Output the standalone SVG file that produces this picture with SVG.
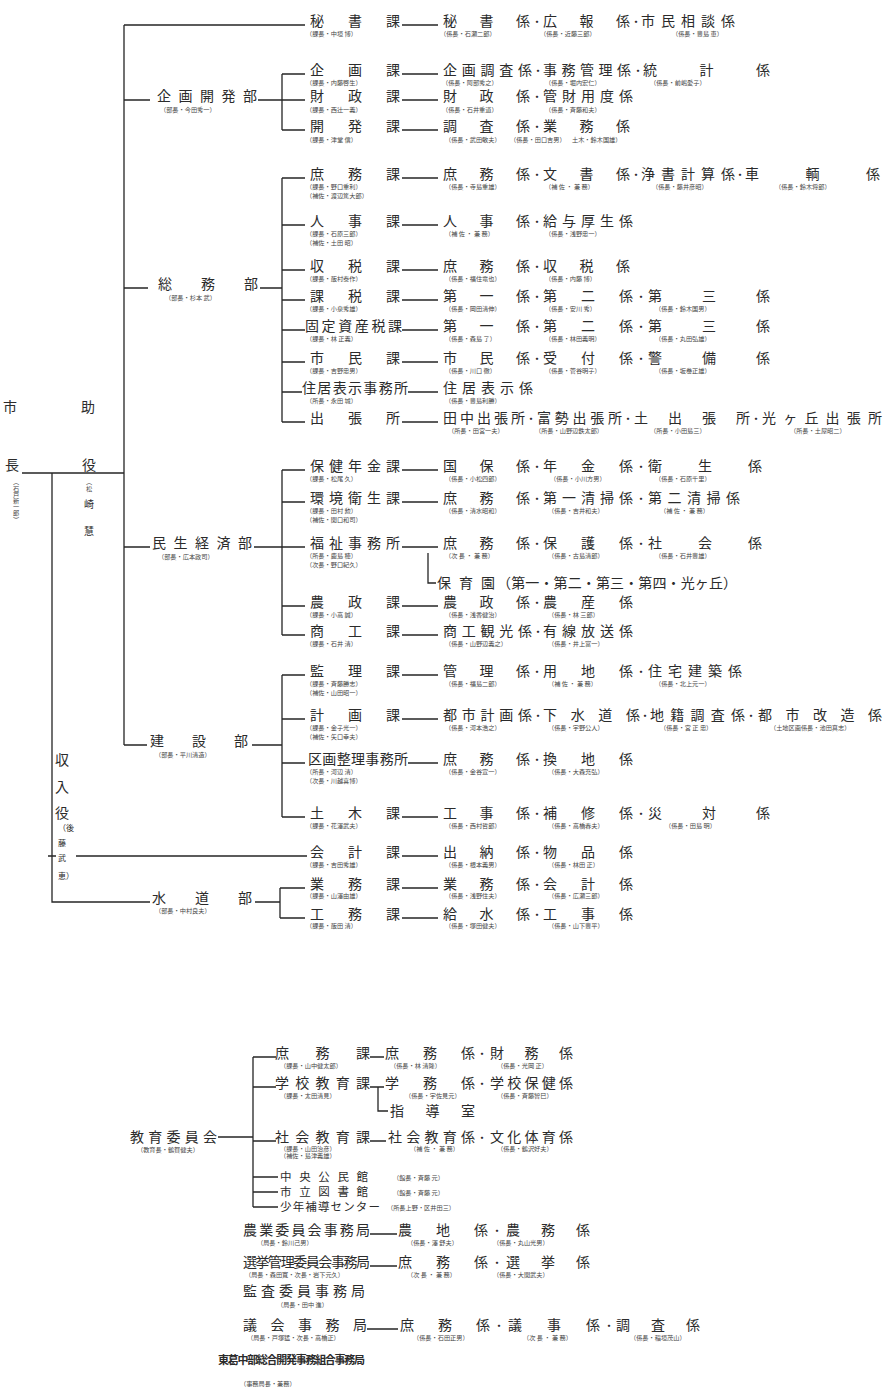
<svg xmlns="http://www.w3.org/2000/svg" width="885" height="1387" viewBox="0 0 885 1387">
<style>
text{font-family:"Noto Sans CJK JP","Noto Sans CJK SC",sans-serif;fill:#2b2b2b}
.t{font-size:14px}
.m{font-size:11.5px}
.s{font-size:6.2px;fill:#444}
.d{font-size:11px;text-anchor:middle}
.v{font-size:8px}
.ln{stroke:#262626;stroke-width:1.3;fill:none}
</style>
<rect width="885" height="1387" fill="#ffffff"/>

<g id="connectors" class="ln">
<path d="M124,25 V745 M124,25 H305 M22,473 H124 M52,473 V902 H150 M48,856 H56 M76,856 H307"/>
<path d="M124,100 H150 M258,100 H282 M282,74 V130 M282,74 H305 M282,100 H305 M282,130 H305"/>
<path d="M124,288 H148 M260,288 H282 M282,178 V422 M282,178 H305 M282,225 H305 M282,270 H305 M282,300 H305 M282,330 H305 M282,362 H305 M282,392 H302 M282,422 H305"/>
<path d="M124,547 H150 M254,547 H282 M282,470 V635 M282,470 H305 M282,502 H305 M282,547 H305 M282,606 H305 M282,635 H305 M428,553 V583 H436"/>
<path d="M124,745 H147 M252,745 H282 M282,675 V817 M282,675 H305 M282,719 H305 M282,763 H305 M282,817 H305"/>
<path d="M255,902 H280 M280,888 V918 M280,888 H305 M280,918 H305"/>
<path d="M402,25 H438 M402,74 H438 M402,100 H438 M402,130 H438 M402,178 H438 M402,225 H438 M402,270 H438 M402,300 H438 M402,330 H438 M402,362 H438 M408,392 H438 M402,422 H438 M402,470 H438 M402,502 H438 M402,547 H438 M402,606 H438 M402,635 H438 M402,675 H438 M402,719 H438 M408,763 H438 M402,817 H438 M402,856 H438 M402,888 H438 M402,918 H438"/>
<path d="M218,1137 H253 M253,1057 V1207 M253,1057 H276 M253,1087 H276 M253,1141 H276 M253,1177 H278 M253,1192 H278 M253,1207 H278 M370,1057 H384 M370,1087 H384 M370,1141 H386 M378,1087 V1111 H388"/>
<path d="M370,1234 H397 M370,1266 H397 M367,1329 H398"/>
</g>

<g id="mayor">
<text class="t" x="3" y="412">市</text>
<text class="t" x="5" y="470">長</text>
<text class="s" x="16" y="479" style="writing-mode:vertical-rl">（石戸新一郎）</text>
</g>
<g id="deputy">
<text class="t" x="81" y="412">助</text>
<text class="t" x="82" y="470">役</text>
<text class="s" x="89" y="479" style="writing-mode:vertical-rl">（松</text>
<text class="t" x="84" y="508" style="font-size:10px">崎</text>
<text class="t" x="84" y="535" style="font-size:10px">慧</text>
</g>
<g id="treasurer">
<text class="t" x="55" y="765">収</text>
<text class="t" x="55" y="792">入</text>
<text class="t" x="55" y="818">役</text>
<text class="v" x="58" y="831">（後</text>
<text class="v" x="58" y="846">藤</text>
<text class="v" x="58" y="861">武</text>
<text class="v" x="58" y="879">恵）</text>
</g>

<g id="dept-kikaku">
<text class="t" x="157" y="101" textLength="100">企画開発部</text>
<text class="s" x="160" y="112">（部長・今田秀一）</text>
</g>
<g id="dept-somu">
<text class="t" x="158" y="289" textLength="100">総務部</text>
<text class="s" x="165" y="300">（部長・杉本 武）</text>
</g>
<g id="dept-minsei">
<text class="t" x="152" y="548" textLength="100">民生経済部</text>
<text class="s" x="158" y="559">（部長・広本政司）</text>
</g>
<g id="dept-kensetsu">
<text class="t" x="150" y="746" textLength="98">建設部</text>
<text class="s" x="155" y="757">（部長・平川清造）</text>
</g>
<g id="dept-suido">
<text class="t" x="152" y="903" textLength="100">水道部</text>
<text class="s" x="155" y="913">（部長・中村良夫）</text>
</g>

<g id="r-hisho">
<text class="t" x="310" y="26" textLength="90">秘書課</text>
<text class="s" x="306" y="36">（課長・中垣 博）</text>
<text class="t" x="443" y="26" textLength="87">秘書係</text><text class="d" x="537" y="26">・</text>
<text class="t" x="543" y="26" textLength="87">広報係</text><text class="d" x="636" y="26">・</text>
<text class="t" x="641" y="26" textLength="94">市民相談係</text>
<text class="s" x="440" y="36">（係長・石瀬二郎）</text><text class="s" x="540" y="36">（係長・近藤三郎）</text><text class="s" x="672" y="36">（係長・豊島 恵）</text>
</g>
<g id="r-kikaku">
<text class="t" x="310" y="75" textLength="90">企画課</text>
<text class="s" x="306" y="85">（課長・内藤啓生）</text>
<text class="t" x="443" y="75" textLength="89">企画調査係</text><text class="d" x="538" y="75">・</text>
<text class="t" x="543" y="75" textLength="88">事務管理係</text><text class="d" x="638" y="75">・</text>
<text class="t" x="643" y="75" textLength="127">統計係</text>
<text class="s" x="442" y="85">（係長・阿部秀之）</text><text class="s" x="545" y="85">（係長・堀内宏仁）</text><text class="s" x="650" y="85">（係長・前嶋愛子）</text>
</g>
<g id="r-zaisei">
<text class="t" x="310" y="101" textLength="90">財政課</text>
<text class="s" x="306" y="112">（課長・西辻一義）</text>
<text class="t" x="443" y="101" textLength="87">財政係</text><text class="d" x="537" y="101">・</text>
<text class="t" x="543" y="101" textLength="90">管財用度係</text>
<text class="s" x="442" y="112">（係長・石井重道）</text><text class="s" x="545" y="112">（係長・斉藤和夫）</text>
</g>
<g id="r-kaihatsu">
<text class="t" x="310" y="131" textLength="90">開発課</text>
<text class="s" x="306" y="142">（課長・津堂 信）</text>
<text class="t" x="443" y="131" textLength="87">調査係</text><text class="d" x="537" y="131">・</text>
<text class="t" x="543" y="131" textLength="87">業務係</text>
<text class="s" x="445" y="142">（係長・武田敏夫）</text><text class="s" x="510" y="142">（係長・田口吉男）</text><text class="s" x="572" y="142">土木・鈴木国雄）</text>
</g>

<g id="r-shomu">
<text class="t" x="310" y="179" textLength="90">庶務課</text>
<text class="s" x="306" y="189">（課長・野口重利）</text>
<text class="s" x="306" y="198">（補佐・渡辺篤大郎）</text>
<text class="t" x="443" y="179" textLength="87">庶務係</text><text class="d" x="537" y="179">・</text>
<text class="t" x="543" y="179" textLength="87">文書係</text><text class="d" x="636" y="179">・</text>
<text class="t" x="641" y="179" textLength="94">浄書計算係</text><text class="d" x="740" y="179">・</text>
<text class="t" x="745" y="179" textLength="135">車輌係</text>
<text class="s" x="445" y="189">（係長・寺島重雄）</text><text class="s" x="545" y="189">（補 佐 ・ 兼 務）</text><text class="s" x="652" y="189">（係長・藤井彦昭）</text><text class="s" x="775" y="189">（係長・鈴木将郎）</text>
</g>
<g id="r-jinji">
<text class="t" x="310" y="226" textLength="90">人事課</text>
<text class="s" x="306" y="236">（課長・石原三郎）</text>
<text class="s" x="306" y="245">（補佐・土田 昭）</text>
<text class="t" x="443" y="226" textLength="87">人事係</text><text class="d" x="537" y="226">・</text>
<text class="t" x="543" y="226" textLength="90">給与厚生係</text>
<text class="s" x="445" y="236">（補 佐 ・ 兼 務）</text><text class="s" x="545" y="236">（係長・浅野忠一）</text>
</g>
<g id="r-shuzei">
<text class="t" x="310" y="271" textLength="90">収税課</text>
<text class="s" x="306" y="281">（課長・飯村泰作）</text>
<text class="t" x="443" y="271" textLength="87">庶務係</text><text class="d" x="537" y="271">・</text>
<text class="t" x="543" y="271" textLength="87">収税係</text>
<text class="s" x="445" y="281">（係長・福住竜也）</text><text class="s" x="545" y="281">（係長・内藤 博）</text>
</g>
<g id="r-kazei">
<text class="t" x="310" y="301" textLength="90">課税課</text>
<text class="s" x="306" y="311">（課長・小泉秀雄）</text>
<text class="t" x="443" y="301" textLength="87">第一係</text><text class="d" x="537" y="301">・</text>
<text class="t" x="543" y="301" textLength="90">第二係</text><text class="d" x="641" y="301">・</text>
<text class="t" x="648" y="301" textLength="122">第三係</text>
<text class="s" x="445" y="311">（係長・岡田清伸）</text><text class="s" x="545" y="311">（係長・安川 秀）</text><text class="s" x="655" y="311">（係長・鈴木国男）</text>
</g>
<g id="r-kotei">
<text class="t" x="305" y="331" textLength="97">固定資産税課</text>
<text class="s" x="306" y="341">（課長・林 正義）</text>
<text class="t" x="443" y="331" textLength="87">第一係</text><text class="d" x="537" y="331">・</text>
<text class="t" x="543" y="331" textLength="90">第二係</text><text class="d" x="641" y="331">・</text>
<text class="t" x="648" y="331" textLength="122">第三係</text>
<text class="s" x="445" y="341">（係長・森島 了）</text><text class="s" x="545" y="341">（係長・林田義明）</text><text class="s" x="655" y="341">（係長・丸田弘雄）</text>
</g>
<g id="r-shimin">
<text class="t" x="310" y="363" textLength="90">市民課</text>
<text class="s" x="306" y="373">（課長・吉野忠男）</text>
<text class="t" x="443" y="363" textLength="87">市民係</text><text class="d" x="537" y="363">・</text>
<text class="t" x="543" y="363" textLength="90">受付係</text><text class="d" x="641" y="363">・</text>
<text class="t" x="648" y="363" textLength="122">警備係</text>
<text class="s" x="445" y="373">（係長・川口 徹）</text><text class="s" x="545" y="373">（係長・菅谷明子）</text><text class="s" x="655" y="373">（係長・坂巻正雄）</text>
</g>
<g id="r-jukyo">
<text class="t" x="302" y="393" textLength="106">住居表示事務所</text>
<text class="s" x="306" y="403">（所長・永田 城）</text>
<text class="t" x="443" y="393" textLength="90">住居表示係</text>
<text class="s" x="445" y="403">（係長・豊島利勝）</text>
</g>
<g id="r-shucho">
<text class="t" x="310" y="423" textLength="90">出張所</text>
<text class="t" x="443" y="423" textLength="82">田中出張所</text><text class="d" x="531" y="423">・</text>
<text class="t" x="537" y="423" textLength="85">富勢出張所</text><text class="d" x="628" y="423">・</text>
<text class="t" x="634" y="423" textLength="116">土出張所</text><text class="d" x="756" y="423">・</text>
<text class="t" x="762" y="423" textLength="120">光ヶ丘出張所</text>
<text class="s" x="448" y="433">（所長・田宮一夫）</text><text class="s" x="535" y="433">（所長・山野辺鉄太郎）</text><text class="s" x="650" y="433">（所長・小田島三）</text><text class="s" x="790" y="433">（所長・土屋昭二）</text>
</g>

<g id="r-hoken">
<text class="t" x="310" y="471" textLength="90">保健年金課</text>
<text class="s" x="306" y="481">（課長・松尾 久）</text>
<text class="t" x="443" y="471" textLength="87">国保係</text><text class="d" x="537" y="471">・</text>
<text class="t" x="543" y="471" textLength="90">年金係</text><text class="d" x="641" y="471">・</text>
<text class="t" x="648" y="471" textLength="114">衛生係</text>
<text class="s" x="445" y="481">（係長・小松四郎）</text><text class="s" x="550" y="481">（係長・小川方男）</text><text class="s" x="655" y="481">（係長・石原千里）</text>
</g>
<g id="r-kankyo">
<text class="t" x="310" y="503" textLength="90">環境衛生課</text>
<text class="s" x="306" y="513">（課長・田村 勲）</text>
<text class="s" x="306" y="522">（補佐・関口和司）</text>
<text class="t" x="443" y="503" textLength="87">庶務係</text><text class="d" x="537" y="503">・</text>
<text class="t" x="543" y="503" textLength="90">第一清掃係</text><text class="d" x="641" y="503">・</text>
<text class="t" x="648" y="503" textLength="92">第二清掃係</text>
<text class="s" x="445" y="513">（係長・清水昭和）</text><text class="s" x="548" y="513">（係長・吉井和夫）</text><text class="s" x="660" y="513">（補 佐 ・ 兼 務）</text>
</g>
<g id="r-fukushi">
<text class="t" x="310" y="548" textLength="90">福祉事務所</text>
<text class="s" x="306" y="558">（所長・鹿島 穂）</text>
<text class="s" x="306" y="567">（次長・野口紀久）</text>
<text class="t" x="443" y="548" textLength="87">庶務係</text><text class="d" x="537" y="548">・</text>
<text class="t" x="543" y="548" textLength="90">保護係</text><text class="d" x="641" y="548">・</text>
<text class="t" x="648" y="548" textLength="114">社会係</text>
<text class="s" x="445" y="558">（次 長 ・ 兼 務）</text><text class="s" x="548" y="558">（係長・古島清郎）</text><text class="s" x="655" y="558">（係長・石井豊雄）</text>
</g>
<g id="r-hoikuen">
<text class="t" x="437" y="588" textLength="58">保育園</text>
<text class="t" x="497" y="588" textLength="240">（第一・第二・第三・第四・光ヶ丘）</text>
</g>
<g id="r-nosei">
<text class="t" x="310" y="607" textLength="90">農政課</text>
<text class="s" x="306" y="617">（課長・小高 誠）</text>
<text class="t" x="443" y="607" textLength="87">農政係</text><text class="d" x="537" y="607">・</text>
<text class="t" x="543" y="607" textLength="90">農産係</text>
<text class="s" x="445" y="617">（係長・浅香健治）</text><text class="s" x="548" y="617">（係長・林 三郎）</text>
</g>
<g id="r-shoko">
<text class="t" x="310" y="636" textLength="90">商工課</text>
<text class="s" x="306" y="646">（課長・石井 清）</text>
<text class="t" x="443" y="636" textLength="89">商工観光係</text><text class="d" x="538" y="636">・</text>
<text class="t" x="543" y="636" textLength="90">有線放送係</text>
<text class="s" x="445" y="646">（係長・山野辺義之）</text><text class="s" x="548" y="646">（係長・井上富一）</text>
</g>

<g id="r-kanri">
<text class="t" x="310" y="676" textLength="90">監理課</text>
<text class="s" x="306" y="686">（課長・斉藤勝志）</text>
<text class="s" x="306" y="695">（補佐・山田昭一）</text>
<text class="t" x="443" y="676" textLength="87">管理係</text><text class="d" x="537" y="676">・</text>
<text class="t" x="543" y="676" textLength="90">用地係</text><text class="d" x="641" y="676">・</text>
<text class="t" x="648" y="676" textLength="94">住宅建築係</text>
<text class="s" x="445" y="686">（係長・福島二郎）</text><text class="s" x="548" y="686">（補 佐 ・ 兼 務）</text><text class="s" x="655" y="686">（係長・北上元一）</text>
</g>
<g id="r-keikaku">
<text class="t" x="310" y="720" textLength="90">計画課</text>
<text class="s" x="306" y="730">（課長・金子光一）</text>
<text class="s" x="306" y="739">（補佐・矢口幸夫）</text>
<text class="t" x="443" y="720" textLength="89">都市計画係</text><text class="d" x="538" y="720">・</text>
<text class="t" x="543" y="720" textLength="97">下水道係</text><text class="d" x="645" y="720">・</text>
<text class="t" x="650" y="720" textLength="95">地籍調査係</text><text class="d" x="751" y="720">・</text>
<text class="t" x="758" y="720" textLength="124">都市改造係</text>
<text class="s" x="445" y="730">（係長・河本浩之）</text><text class="s" x="548" y="730">（係長・宇野公人）</text><text class="s" x="660" y="730">（係長・宮 正 忠）</text><text class="s" x="770" y="730">（土地区画係長・池田真志）</text>
</g>
<g id="r-kukaku">
<text class="t" x="308" y="764" textLength="100">区画整理事務所</text>
<text class="s" x="306" y="774">（所長・河辺 清）</text>
<text class="s" x="306" y="783">（次長・川越喜博）</text>
<text class="t" x="443" y="764" textLength="87">庶務係</text><text class="d" x="537" y="764">・</text>
<text class="t" x="543" y="764" textLength="90">換地係</text>
<text class="s" x="445" y="774">（係長・金谷宣一）</text><text class="s" x="548" y="774">（係長・大森充弘）</text>
</g>
<g id="r-doboku">
<text class="t" x="310" y="818" textLength="90">土木課</text>
<text class="s" x="306" y="828">（課長・花澤武夫）</text>
<text class="t" x="443" y="818" textLength="87">工事係</text><text class="d" x="537" y="818">・</text>
<text class="t" x="543" y="818" textLength="90">補修係</text><text class="d" x="641" y="818">・</text>
<text class="t" x="648" y="818" textLength="122">災対係</text>
<text class="s" x="445" y="828">（係長・西村哲郎）</text><text class="s" x="548" y="828">（係長・高橋春夫）</text><text class="s" x="665" y="828">（係長・田島 明）</text>
</g>
<g id="r-kaikei">
<text class="t" x="310" y="857" textLength="90">会計課</text>
<text class="s" x="306" y="867">（課長・吉田秀雄）</text>
<text class="t" x="443" y="857" textLength="87">出納係</text><text class="d" x="537" y="857">・</text>
<text class="t" x="543" y="857" textLength="90">物品係</text>
<text class="s" x="445" y="867">（係長・根本義男）</text><text class="s" x="548" y="867">（係長・林田 正）</text>
</g>
<g id="r-gyomu">
<text class="t" x="310" y="889" textLength="90">業務課</text>
<text class="s" x="306" y="898">（課長・山澤由雄）</text>
<text class="t" x="443" y="889" textLength="87">業務係</text><text class="d" x="537" y="889">・</text>
<text class="t" x="543" y="889" textLength="90">会計係</text>
<text class="s" x="445" y="898">（係長・浅野住夫）</text><text class="s" x="548" y="898">（係長・広瀬三郎）</text>
</g>
<g id="r-komu">
<text class="t" x="310" y="919" textLength="90">工務課</text>
<text class="s" x="306" y="928">（課長・飯田 清）</text>
<text class="t" x="443" y="919" textLength="87">給水係</text><text class="d" x="537" y="919">・</text>
<text class="t" x="543" y="919" textLength="90">工事係</text>
<text class="s" x="445" y="928">（係長・塚田健夫）</text><text class="s" x="548" y="928">（係長・山下豊平）</text>
</g>

<g id="kyoiku-iinkai">
<text class="t" x="130" y="1142" textLength="87">教育委員会</text>
<text class="s" x="137" y="1152">（教育長・鶴賀健夫）</text>
</g>
<g id="e-shomu">
<text class="t" x="275" y="1058" textLength="95">庶務課</text>
<text class="s" x="280" y="1068">（課長・山中健太郎）</text>
<text class="t" x="385" y="1058" textLength="90">庶務係</text><text class="d" x="482" y="1058">・</text>
<text class="t" x="490" y="1058" textLength="83">財務係</text>
<text class="s" x="390" y="1068">（係長・林 清隆）</text><text class="s" x="497" y="1068">（係長・光岡 正）</text>
</g>
<g id="e-gakko">
<text class="t" x="275" y="1088" textLength="95">学校教育課</text>
<text class="s" x="280" y="1098">（課長・太田清見）</text>
<text class="t" x="385" y="1088" textLength="90">学務係</text><text class="d" x="482" y="1088">・</text>
<text class="t" x="490" y="1088" textLength="83">学校保健係</text>
<text class="s" x="405" y="1098">（係長・宇佐見元）</text><text class="s" x="497" y="1098">（係長・斉藤智巳）</text>
</g>
<g id="e-shido">
<text class="t" x="390" y="1116" textLength="85">指導室</text>
</g>
<g id="e-shakai">
<text class="t" x="275" y="1142" textLength="95">社会教育課</text>
<text class="s" x="280" y="1151">（課長・山田治彦）</text>
<text class="s" x="280" y="1158">（補佐・島津義雄）</text>
<text class="t" x="388" y="1142" textLength="87">社会教育係</text><text class="d" x="482" y="1142">・</text>
<text class="t" x="490" y="1142" textLength="83">文化体育係</text>
<text class="s" x="410" y="1151">（補 佐 ・ 兼 務）</text><text class="s" x="497" y="1151">（係長・鶴沢好夫）</text>
</g>
<g id="e-kominkan">
<text class="m" x="280" y="1181" textLength="88">中央公民館</text>
<text class="s" x="393" y="1180">（館長・斉藤 元）</text>
</g>
<g id="e-toshokan">
<text class="m" x="280" y="1196" textLength="88">市立図書館</text>
<text class="s" x="393" y="1195">（館長・斉藤 元）</text>
</g>
<g id="e-hodo">
<text class="m" x="280" y="1211" textLength="100">少年補導センター</text>
<text class="s" x="387" y="1210">（所長上野・区井田三）</text>
</g>

<g id="b-nogyo">
<text class="t" x="243" y="1235" textLength="127">農業委員会事務局</text>
<text class="s" x="257" y="1245">（局長・鈴川己男）</text>
<text class="t" x="398" y="1235" textLength="90">農地係</text><text class="d" x="497" y="1235">・</text>
<text class="t" x="506" y="1235" textLength="84">農務係</text>
<text class="s" x="407" y="1245">（係長・澤 舒夫）</text><text class="s" x="493" y="1245">（係長・丸山光男）</text>
</g>
<g id="b-senkyo">
<text class="t" x="243" y="1267" textLength="127">選挙管理委員会事務局</text>
<text class="s" x="245" y="1277">（局長・森田寛・次長・岩下元久）</text>
<text class="t" x="398" y="1267" textLength="90">庶務係</text><text class="d" x="497" y="1267">・</text>
<text class="t" x="506" y="1267" textLength="84">選挙係</text>
<text class="s" x="407" y="1277">（次 長 ・ 兼 務）</text><text class="s" x="493" y="1277">（係長・大関武夫）</text>
</g>
<g id="b-kansa">
<text class="t" x="243" y="1296" textLength="122">監査委員事務局</text>
<text class="s" x="277" y="1307">（局長・田中 進）</text>
</g>
<g id="b-gikai">
<text class="t" x="243" y="1330" textLength="124">議会事務局</text>
<text class="s" x="247" y="1340">（局長・戸塚猛・次長・高橋正）</text>
<text class="t" x="400" y="1330" textLength="90">庶務係</text><text class="d" x="499" y="1330">・</text>
<text class="t" x="508" y="1330" textLength="92">議事係</text><text class="d" x="609" y="1330">・</text>
<text class="t" x="616" y="1330" textLength="84">調査係</text>
<text class="s" x="413" y="1340">（係長・石田正男）</text><text class="s" x="523" y="1340">（次 長 ・ 兼 務）</text><text class="s" x="630" y="1340">（係長・稲垣茂山）</text>
</g>
<g id="b-tokatsu">
<text class="t" x="218" y="1364" textLength="147" style="font-size:11px;font-weight:bold">東葛中部総合開発事務組合事務局</text>
<text class="s" x="240" y="1386">（事務局長・兼務）</text>
</g>
</svg>
